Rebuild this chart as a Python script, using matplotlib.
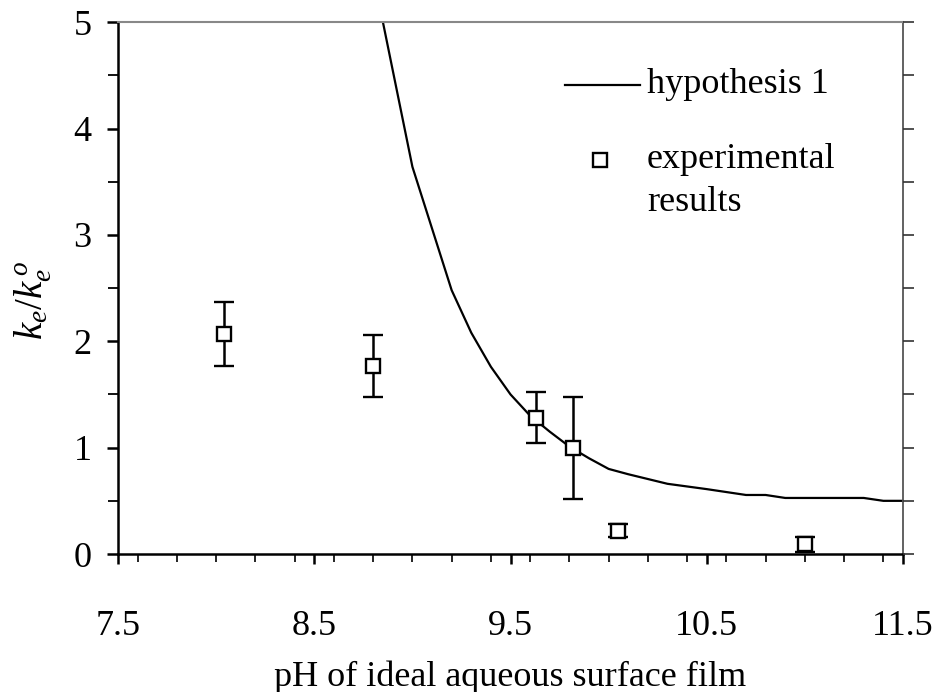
import matplotlib
matplotlib.use("Agg")
import matplotlib.pyplot as plt
from matplotlib.ticker import MultipleLocator, FixedLocator
from matplotlib.lines import Line2D

plt.rcParams['font.family'] = ['Liberation Serif', 'DejaVu Serif']
plt.rcParams['mathtext.fontset'] = 'custom'
plt.rcParams['mathtext.rm'] = 'Liberation Serif'
plt.rcParams['mathtext.it'] = 'Liberation Serif:italic'

# Model curve (hypothesis 1)
ph_model = [8.8, 9.0, 9.2, 9.3, 9.4, 9.5, 9.6, 9.7, 9.8, 9.9, 10.0, 10.1,
            10.3, 10.5, 10.7, 10.8, 10.9, 11.3, 11.4, 11.5]
ratio_model = [5.45, 3.64, 2.48, 2.08, 1.76, 1.50, 1.30, 1.15, 1.01, 0.90,
               0.80, 0.75, 0.66, 0.61, 0.555, 0.555, 0.527, 0.527, 0.50, 0.50]

# Measurements with error bars
ph_exp = [8.04, 8.80, 9.63, 9.82, 10.05, 11.0]
ratio_exp = [2.07, 1.77, 1.28, 1.00, 0.22, 0.09]
err_exp = [0.30, 0.29, 0.24, 0.48, 0.06, 0.07]

xticks = [7.5, 8.5, 9.5, 10.5, 11.5]
xtick_labels = ["7.5", "8.5", "9.5", "10.5", "11.5"]

FS = 26

fig = plt.figure(figsize=(9.37, 6.92), dpi=100)
ax = fig.add_axes([0.126, 0.1994, 0.8377, 0.7686])

ax.plot(ph_model, ratio_model, color='black', lw=1.6, clip_on=True)
ax.errorbar(ph_exp, ratio_exp, yerr=err_exp, fmt='s', mfc='white', mec='black',
            mew=1.7, ms=10, ecolor='black', elinewidth=1.8, capsize=7.5,
            capthick=1.8, zorder=3)

ax.set_xlim(7.5, 11.5)
ax.set_ylim(0, 5)

ax.xaxis.set_major_locator(FixedLocator(xticks))
ax.set_xticklabels(xtick_labels)
ax.xaxis.set_minor_locator(MultipleLocator(0.2))
ax.yaxis.set_major_locator(MultipleLocator(1))
ax.yaxis.set_minor_locator(MultipleLocator(0.5))

ax.tick_params(axis='both', which='major', direction='out', width=1.8,
               labelsize=FS, color='black')
ax.tick_params(axis='y', which='major', length=8, pad=11)
ax.tick_params(axis='y', which='minor', direction='out', length=7, width=1.3)
ax.tick_params(axis='x', which='major', length=7, pad=33)
ax.tick_params(axis='x', which='minor', direction='out', length=6, width=1.2)

for side in ('left', 'bottom'):
    ax.spines[side].set_linewidth(1.8)
ax.spines['top'].set_color('#888888')
ax.spines['top'].set_linewidth(1.5)
ax.spines['right'].set_color('#555555')
ax.spines['right'].set_linewidth(1.3)

# Right-hand tick marks
ax2 = ax.twinx()
ax2.set_ylim(0, 5)
ax2.yaxis.set_major_locator(MultipleLocator(0.5))
ax2.tick_params(axis='y', which='major', direction='out', length=8, width=1.2,
                labelright=False, color='#333333')
for s in ax2.spines.values():
    s.set_visible(False)

# Axis titles
fig.text(510 / 937, 1 - 677 / 692, "pH of ideal aqueous surface film",
         fontsize=FS, ha='center', va='center')
fig.text(33 / 937, 1 - 300 / 692, r"$k_e/k_e^{\,o}$", fontsize=28,
         rotation=90, ha='center', va='center')

# Legend drawn in axes coordinates
ax.add_line(Line2D([0.569, 0.665], [0.882, 0.882], transform=ax.transAxes,
                   color='black', lw=1.6))
ax.text(0.674, 0.882, "hypothesis 1", transform=ax.transAxes, fontsize=FS,
        va='center', ha='left')
ax.add_line(Line2D([0.614], [0.741], transform=ax.transAxes, marker='s',
                   mfc='white', mec='black', mew=1.7, ms=10, ls='none'))
ax.text(0.674, 0.741, "experimental", transform=ax.transAxes, fontsize=FS,
        va='center', ha='left')
ax.text(0.674, 0.66, "results", transform=ax.transAxes, fontsize=FS,
        va='center', ha='left')

fig.savefig("out.png", dpi=100)
